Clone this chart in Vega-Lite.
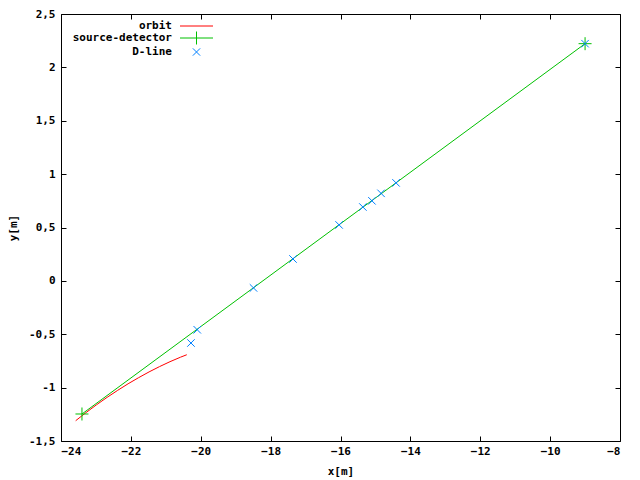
{
  "$schema": "https://vega.github.io/schema/vega-lite/v6.json",
  "width": 559,
  "height": 427,
  "autosize": {"type": "none"},
  "padding": {"left": 61, "top": 14, "right": 20, "bottom": 39},
  "background": "white",
  "config": {
    "view": {"stroke": "black", "strokeWidth": 1},
    "axis": {
      "labelFont": "DejaVu Sans Mono", "labelFontWeight": "bold", "labelFontSize": 11, "labelColor": "black",
      "titleFont": "DejaVu Sans Mono", "titleFontWeight": "bold", "titleFontSize": 11, "titleColor": "black",
      "grid": false, "domain": false, "tickColor": "black", "tickSize": -5, "tickWidth": 1
    }
  },
  "data": {
    "values": [
      {"series": "orbit", "ord": 0, "x": -23.58, "y": -1.310},
      {"series": "orbit", "ord": 1, "x": -23.28, "y": -1.233},
      {"series": "orbit", "ord": 2, "x": -22.98, "y": -1.160},
      {"series": "orbit", "ord": 3, "x": -22.68, "y": -1.091},
      {"series": "orbit", "ord": 4, "x": -22.38, "y": -1.026},
      {"series": "orbit", "ord": 5, "x": -22.08, "y": -0.964},
      {"series": "orbit", "ord": 6, "x": -21.78, "y": -0.907},
      {"series": "orbit", "ord": 7, "x": -21.48, "y": -0.853},
      {"series": "orbit", "ord": 8, "x": -21.18, "y": -0.803},
      {"series": "orbit", "ord": 9, "x": -20.88, "y": -0.757},
      {"series": "orbit", "ord": 10, "x": -20.58, "y": -0.715},
      {"series": "orbit", "ord": 11, "x": -20.40, "y": -0.692},
      {"series": "source-detector", "ord": 0, "x": -23.40, "y": -1.247},
      {"series": "source-detector", "ord": 1, "x": -9.00, "y": 2.222},
      {"series": "D-line", "ord": 0, "x": -20.28, "y": -0.582},
      {"series": "D-line", "ord": 1, "x": -20.10, "y": -0.458},
      {"series": "D-line", "ord": 2, "x": -18.49, "y": -0.066},
      {"series": "D-line", "ord": 3, "x": -17.36, "y": 0.205},
      {"series": "D-line", "ord": 4, "x": -16.04, "y": 0.524},
      {"series": "D-line", "ord": 5, "x": -15.36, "y": 0.692},
      {"series": "D-line", "ord": 6, "x": -15.10, "y": 0.750},
      {"series": "D-line", "ord": 7, "x": -14.84, "y": 0.820},
      {"series": "D-line", "ord": 8, "x": -14.41, "y": 0.918},
      {"series": "D-line", "ord": 9, "x": -9.00, "y": 2.222}
    ]
  },
  "layer": [
    {
      "transform": [{"filter": "datum.series === 'orbit'"}],
      "mark": {"type": "line", "strokeWidth": 1},
      "encoding": {
        "x": {"field": "x", "type": "quantitative", "scale": {"domain": [-24, -8], "nice": false, "zero": false},
              "axis": {"orient": "bottom", "values": [-24, -22, -20, -18, -16, -14, -12, -10, -8], "title": "x[m]", "labelPadding": 9, "titlePadding": 9}},
        "y": {"field": "y", "type": "quantitative", "scale": {"domain": [-1.5, 2.5], "nice": false, "zero": false},
              "axis": {"orient": "left", "values": [-1.5, -1, -0.5, 0, 0.5, 1, 1.5, 2, 2.5], "title": "y[m]", "labelPadding": 11, "titlePadding": 10,
                       "labelExpr": "replace(toString(datum.value), '.', ',')"}},
        "color": {"field": "series", "type": "nominal",
                  "scale": {"domain": ["orbit", "source-detector", "D-line"], "range": ["#ff0000", "#00c000", "#0080ff"]},
                  "legend": {
                    "orient": "none", "legendX": 130, "legendY": 6.5, "title": null,
                    "symbolSize": 100, "symbolStrokeWidth": 1, "labelAlign": "right", "labelOffset": -30,
                    "labelFont": "DejaVu Sans Mono", "labelFontWeight": "bold", "labelFontSize": 11, "labelColor": "black",
                    "rowPadding": -2, "padding": 0,
                    "encode": {"symbols": {"update": {
                      "shape": {"signal": "datum.value === 'orbit' ? 'M-3.3,0H3.3' : datum.value === 'source-detector' ? 'M-3.3,0H3.3M0,-1.3V1.3' : 'M-0.73,-0.73L0.73,0.73M-0.73,0.73L0.73,-0.73'"},
                      "fill": {"value": "transparent"},
                      "stroke": {"signal": "datum.value === 'orbit' ? '#ff0000' : datum.value === 'source-detector' ? '#00c000' : '#0080ff'"},
                      "strokeWidth": {"value": 1},
                      "strokeOpacity": {"value": 1},
                      "opacity": {"value": 1}
                    }}}
                  }},
        "order": {"field": "ord", "type": "quantitative"}
      }
    },
    {
      "transform": [{"filter": "datum.series === 'source-detector'"}],
      "mark": {"type": "line", "strokeWidth": 1},
      "encoding": {
        "x": {"field": "x", "type": "quantitative",
              "axis": {"orient": "top", "values": [-24, -22, -20, -18, -16, -14, -12, -10, -8], "labels": false, "title": null}},
        "y": {"field": "y", "type": "quantitative",
              "axis": {"orient": "right", "values": [-1.5, -1, -0.5, 0, 0.5, 1, 1.5, 2, 2.5], "labels": false, "title": null}},
        "color": {"field": "series", "type": "nominal"},
        "order": {"field": "ord", "type": "quantitative"}
      }
    },
    {
      "transform": [{"filter": "datum.series === 'source-detector'"}],
      "mark": {"type": "point", "shape": "M-1,0H1M0,-1V1", "size": 169, "filled": false, "strokeWidth": 1, "opacity": 1},
      "encoding": {
        "x": {"field": "x", "type": "quantitative", "axis": null},
        "y": {"field": "y", "type": "quantitative", "axis": null},
        "color": {"field": "series", "type": "nominal"}
      }
    },
    {
      "transform": [{"filter": "datum.series === 'D-line'"}],
      "mark": {"type": "point", "shape": "M-1,-1L1,1M-1,1L1,-1", "size": 56, "filled": false, "strokeWidth": 1, "opacity": 1},
      "encoding": {
        "x": {"field": "x", "type": "quantitative", "axis": null},
        "y": {"field": "y", "type": "quantitative", "axis": null},
        "color": {"field": "series", "type": "nominal"}
      }
    }
  ],
  "resolve": {"axis": {"x": "independent", "y": "independent"}}
}
